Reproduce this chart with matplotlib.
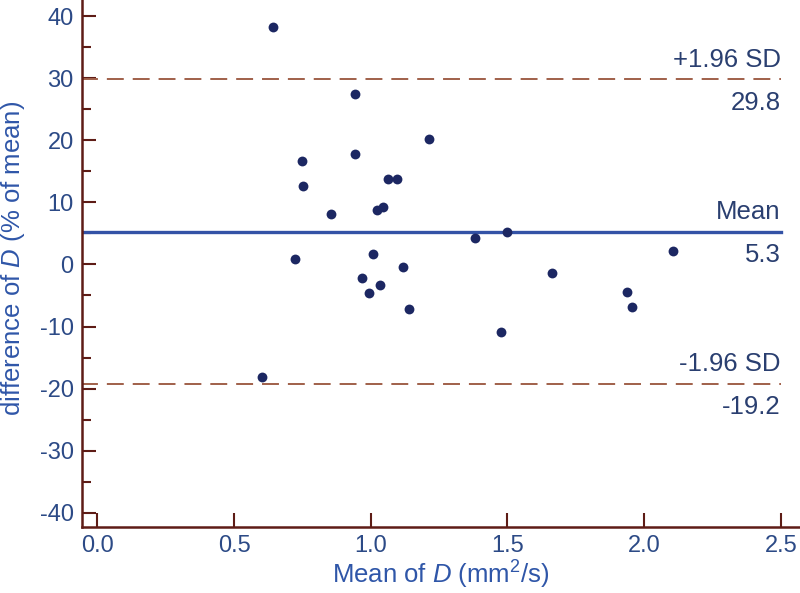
import matplotlib
matplotlib.use("Agg")
import matplotlib.pyplot as plt
from matplotlib.ticker import MultipleLocator

plt.rcParams['font.family'] = ['Liberation Sans', 'DejaVu Sans']
plt.rcParams['mathtext.fontset'] = 'custom'
plt.rcParams['mathtext.rm'] = 'Liberation Sans'
plt.rcParams['mathtext.it'] = 'Liberation Sans:italic'
plt.rcParams['axes.unicode_minus'] = False

# data
mean_d = [0.641, 0.944, 1.212, 0.750, 0.944, 0.754, 1.063, 1.096, 0.854,
          1.023, 1.045, 1.380, 1.498, 1.008, 1.118, 0.968, 1.034, 0.992,
          1.140, 1.476, 0.722, 0.603, 1.663, 1.937, 1.954, 2.105]
diff_pct = [38.3, 27.4, 20.2, 16.6, 17.8, 12.7, 13.8, 13.7, 8.1,
            8.7, 9.3, 4.2, 5.2, 1.6, -0.4, -2.2, -3.3, -4.6,
            -7.2, -10.9, 0.9, -18.1, -1.3, -4.5, -6.9, 2.1]
mean_diff = 5.3
upper_loa = 29.8
lower_loa = -19.2
x_ticks = [0.0, 0.5, 1.0, 1.5, 2.0, 2.5]
y_ticks = [-40, -30, -20, -10, 0, 10, 20, 30, 40]

axis_col = '#5e1c16'
tick_col = '#2c4a86'
text_col = '#2a3f70'
dash_col = '#a0604a'
mean_col = '#3352a6'
dot_col = '#1c2762'

fig = plt.figure(figsize=(8, 5.93), dpi=100)
ax = fig.add_axes([0.1025, 0.1113, 0.8975, 0.8887])

x_end = x_ticks[-1]
ax.plot([-0.06, x_end], [upper_loa, upper_loa], color=dash_col, lw=1.4,
        dashes=(8.7, 4.6))
ax.plot([-0.06, x_end], [lower_loa, lower_loa], color=dash_col, lw=1.4,
        dashes=(8.7, 4.6))
ax.plot([-0.06, x_end], [mean_diff, mean_diff], color=mean_col, lw=2.4)

ax.scatter(mean_d, diff_pct, s=50, color=dot_col, zorder=3, linewidths=0)

fs_tick = 17
fs_note = 18.5
fs_lab = 18.5
for yv, name in [(upper_loa, '+1.96 SD'), (mean_diff, 'Mean'), (lower_loa, '-1.96 SD')]:
    ax.text(x_end, yv + 1.2, name, ha='right', va='bottom', fontsize=fs_note, color=text_col)
    ax.text(x_end, yv - 1.9, f'{yv:.1f}', ha='right', va='top', fontsize=fs_note, color=text_col)

ax.set_xlim(-0.056, 2.57)
ax.set_ylim(-42.3, 42.6)
ax.set_xticks(x_ticks)
ax.set_xticklabels([f'{v:.1f}' for v in x_ticks])
ax.set_yticks(y_ticks)
ax.yaxis.set_minor_locator(MultipleLocator(5))

for s in ['top', 'right']:
    ax.spines[s].set_visible(False)
for s in ['left', 'bottom']:
    ax.spines[s].set_color(axis_col)
    ax.spines[s].set_linewidth(1.8)

ax.tick_params(which='major', direction='in', length=10, width=1.5,
               color=axis_col, labelsize=fs_tick, labelcolor=tick_col, pad=6)
ax.tick_params(which='minor', direction='in', length=6.5, width=1.5, color=axis_col)

ax.set_xlabel(r'Mean of $\mathit{D}$ (mm$^2$/s)', fontsize=fs_lab, color='#2f56a8', labelpad=1)
ax.set_ylabel(r'difference of $\mathit{D}$ (% of mean)', fontsize=fs_lab, color='#2f56a8')
ax.yaxis.set_label_coords(-0.076, 0.51)

fig.savefig('out.png', dpi=100)
